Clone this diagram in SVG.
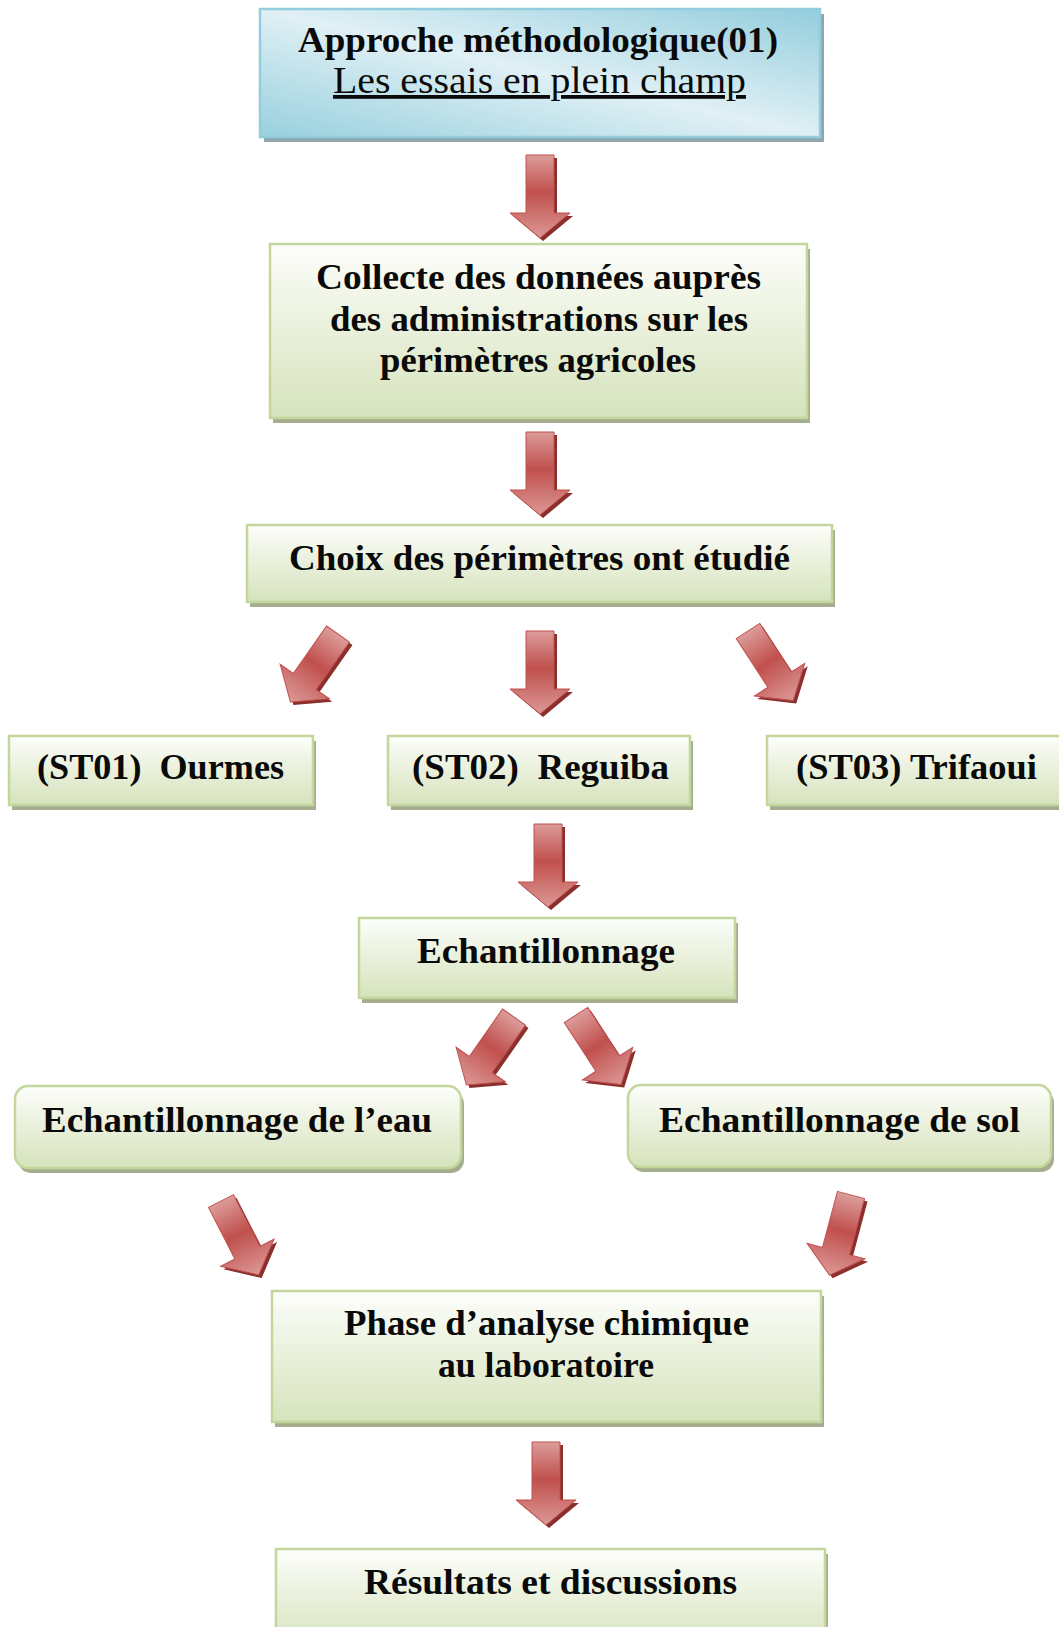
<svg xmlns="http://www.w3.org/2000/svg" xmlns:xlink="http://www.w3.org/1999/xlink" width="1059" height="1627" viewBox="0 0 1059 1627">
<style>
.t{font-family:"Liberation Serif","Times New Roman",serif;font-weight:bold;font-size:36px;fill:#0a0a0a;text-anchor:middle}
.box{fill:url(#gg);stroke:#c3d69b;stroke-width:2.5}
.sh{fill:#a4ae8f}
.ash{fill:#8a2f2c}
.arr{fill:url(#ag);stroke:#c0504d;stroke-width:1}
</style>
<defs>
<linearGradient id="gg" x1="0" y1="0" x2="0" y2="1">
<stop offset="0" stop-color="#fdfefb"/>
<stop offset="0.45" stop-color="#ebf1de"/>
<stop offset="1" stop-color="#d6e3bc"/>
</linearGradient>
<linearGradient id="bg" x1="0" y1="1" x2="1" y2="0">
<stop offset="0" stop-color="#98d0de"/>
<stop offset="0.5" stop-color="#e0f0f5"/>
<stop offset="1" stop-color="#93cddd"/>
</linearGradient>
<linearGradient id="ag" x1="0" y1="0" x2="0" y2="1">
<stop offset="0" stop-color="#dc9c9a"/>
<stop offset="0.45" stop-color="#c0504d"/>
<stop offset="1" stop-color="#dc9896"/>
</linearGradient>
<path id="arrow" d="M -14 0 H 14 V 58 H 30 L 0 83 L -30 58 H -14 Z"/>
</defs>

<g id="connectors">
<use xlink:href="#arrow" class="ash" transform="translate(543,158)"/>
<use xlink:href="#arrow" class="arr" transform="translate(540,155)"/>
<use xlink:href="#arrow" class="ash" transform="translate(543,435)"/>
<use xlink:href="#arrow" class="arr" transform="translate(540,432)"/>
<use xlink:href="#arrow" class="ash" transform="translate(341,637) rotate(35)"/>
<use xlink:href="#arrow" class="arr" transform="translate(338,634) rotate(35)"/>
<use xlink:href="#arrow" class="ash" transform="translate(543,634)"/>
<use xlink:href="#arrow" class="arr" transform="translate(540,631)"/>
<use xlink:href="#arrow" class="ash" transform="translate(751,634) rotate(-33)"/>
<use xlink:href="#arrow" class="arr" transform="translate(748,631) rotate(-33)"/>
<use xlink:href="#arrow" class="ash" transform="translate(551,827)"/>
<use xlink:href="#arrow" class="arr" transform="translate(548,824)"/>
<use xlink:href="#arrow" class="ash" transform="translate(517,1020) rotate(35)"/>
<use xlink:href="#arrow" class="arr" transform="translate(514,1017) rotate(35)"/>
<use xlink:href="#arrow" class="ash" transform="translate(579,1018) rotate(-33)"/>
<use xlink:href="#arrow" class="arr" transform="translate(576,1015) rotate(-33)"/>
<use xlink:href="#arrow" class="ash" transform="translate(224,1204) rotate(-27)"/>
<use xlink:href="#arrow" class="arr" transform="translate(221,1201) rotate(-27)"/>
<use xlink:href="#arrow" class="ash" transform="translate(854,1198) rotate(15)"/>
<use xlink:href="#arrow" class="arr" transform="translate(851,1195) rotate(15)"/>
<use xlink:href="#arrow" class="ash" transform="translate(549,1445)"/>
<use xlink:href="#arrow" class="arr" transform="translate(546,1442)"/>
</g>

<g id="n-approche">
<rect x="264" y="14" width="560" height="128" fill="#8fa6ae"/>
<rect x="260" y="9" width="560" height="128" fill="url(#bg)" stroke="#93cddd" stroke-width="2.5"/>
<text class="t" x="538" y="52" textLength="480" lengthAdjust="spacingAndGlyphs">Approche méthodologique(01)</text>
<text class="t" x="539.5" y="93" textLength="413" lengthAdjust="spacingAndGlyphs" text-decoration="underline" style="font-weight:normal;font-size:38px">Les essais en plein champ</text>
</g>

<g id="n-collecte">
<rect class="sh" x="273" y="249" width="537" height="174"/>
<rect class="box" x="270" y="244" width="537" height="174"/>
<text class="t" x="538.5" y="289" textLength="445" lengthAdjust="spacingAndGlyphs">Collecte des données auprès</text>
<text class="t" x="539" y="330.5" textLength="418" lengthAdjust="spacingAndGlyphs">des administrations sur les</text>
<text class="t" x="538" y="372" textLength="316" lengthAdjust="spacingAndGlyphs">périmètres agricoles</text>
</g>

<g id="n-choix">
<rect class="sh" x="250" y="530" width="585" height="77"/>
<rect class="box" x="247" y="525" width="585" height="77"/>
<text class="t" x="539.5" y="570" textLength="501" lengthAdjust="spacingAndGlyphs">Choix des périmètres ont étudié</text>
</g>

<g id="n-st01">
<rect class="sh" x="12" y="741" width="304" height="69"/>
<rect class="box" x="9" y="736" width="304" height="69"/>
<text class="t" x="160.5" y="779" textLength="247" lengthAdjust="spacingAndGlyphs" xml:space="preserve">(ST01)  Ourmes</text>
</g>

<g id="n-st02">
<rect class="sh" x="391" y="741" width="302" height="69"/>
<rect class="box" x="388" y="736" width="302" height="69"/>
<text class="t" x="540.5" y="779" textLength="257" lengthAdjust="spacingAndGlyphs" xml:space="preserve">(ST02)  Reguiba</text>
</g>

<g id="n-st03">
<rect class="sh" x="770" y="741" width="300" height="69"/>
<rect class="box" x="767" y="736" width="300" height="69"/>
<text class="t" x="916.5" y="779" textLength="241" lengthAdjust="spacingAndGlyphs">(ST03) Trifaoui</text>
</g>

<g id="n-echant">
<rect class="sh" x="362" y="923" width="376" height="80"/>
<rect class="box" x="359" y="918" width="376" height="80"/>
<text class="t" x="546" y="963" textLength="258" lengthAdjust="spacingAndGlyphs">Echantillonnage</text>
</g>

<g id="n-eau">
<rect class="sh" x="18" y="1091" width="446" height="82" rx="13"/>
<rect class="box" x="15" y="1086" width="446" height="82" rx="13"/>
<text class="t" x="237" y="1132" textLength="390" lengthAdjust="spacingAndGlyphs">Echantillonnage de l’eau</text>
</g>

<g id="n-sol">
<rect class="sh" x="631" y="1090" width="423" height="82" rx="13"/>
<rect class="box" x="628" y="1085" width="423" height="82" rx="13"/>
<text class="t" x="839.5" y="1132" textLength="361" lengthAdjust="spacingAndGlyphs">Echantillonnage de sol</text>
</g>

<g id="n-phase">
<rect class="sh" x="275" y="1296" width="549" height="131"/>
<rect class="box" x="272" y="1291" width="549" height="131"/>
<text class="t" x="546.5" y="1335" textLength="405" lengthAdjust="spacingAndGlyphs">Phase d’analyse chimique</text>
<text class="t" x="546" y="1377" textLength="216" lengthAdjust="spacingAndGlyphs">au laboratoire</text>
</g>

<g id="n-resultats">
<rect class="sh" x="279" y="1554" width="549" height="100"/>
<rect class="box" x="276" y="1549" width="549" height="100"/>
<text class="t" x="550.5" y="1594" textLength="373" lengthAdjust="spacingAndGlyphs">Résultats et discussions</text>
</g>
</svg>
